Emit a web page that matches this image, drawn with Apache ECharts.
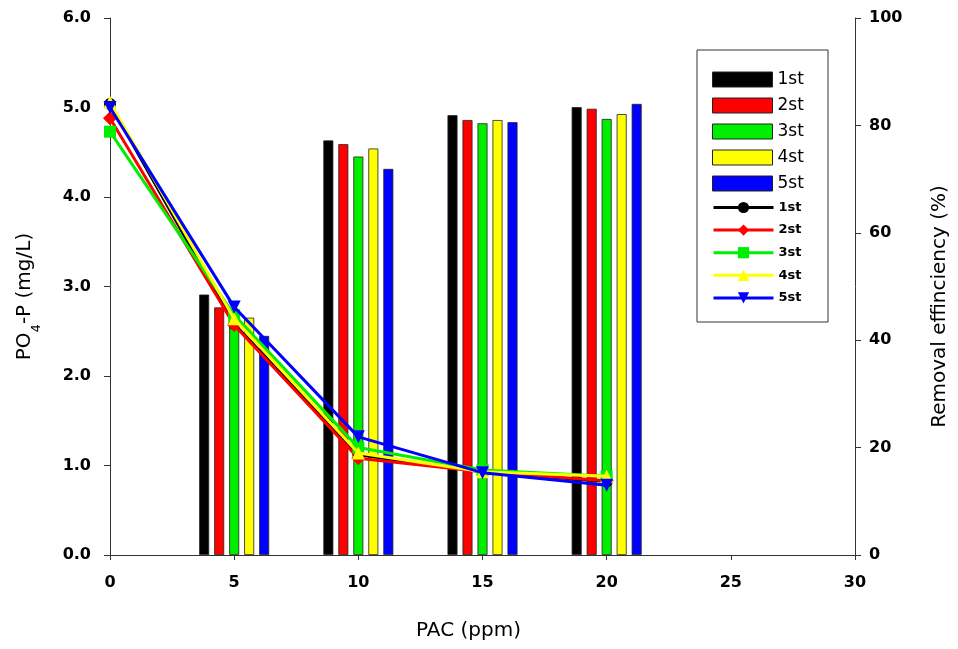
<!DOCTYPE html>
<html>
<head>
<meta charset="utf-8">
<title>PAC dose vs PO4-P and removal efficiency</title>
<script src="https://cdn.jsdelivr.net/npm/echarts@6/dist/echarts.min.js"></script>
<style>
  html, body { margin: 0; padding: 0; background: #fff; }
  #chart { width: 958px; height: 649px; }
</style>
</head>
<body>
<div id="chart"></div>
<script>
// PAC doses (ppm)
const doses = [0, 5, 10, 15, 20];
const barDoses = [5, 10, 15, 20];
const runNames = ['1st', '2st', '3st', '4st', '5st'];
const runColors = ['#000000', '#ff0000', '#00ee00', '#ffff00', '#0000ff'];

// Removal efficiency (%) per run, at 5/10/15/20 ppm
const removal1 = [48.5, 77.2, 81.9, 83.4];
const removal2 = [46.1, 76.5, 81.0, 83.1];
const removal3 = [45.2, 74.2, 80.4, 81.2];
const removal4 = [44.2, 75.7, 81.0, 82.1];
const removal5 = [40.8, 71.9, 80.6, 84.0];

// Residual PO4-P (mg/L) per run, at 0/5/10/15/20 ppm
const po4p1 = [5.04, 2.58, 1.12, 0.93, 0.82];
const po4p2 = [4.88, 2.57, 1.08, 0.93, 0.83];
const po4p3 = [4.73, 2.68, 1.20, 0.95, 0.88];
const po4p4 = [5.06, 2.64, 1.14, 0.93, 0.88];
const po4p5 = [5.00, 2.77, 1.32, 0.92, 0.78];

// Tick labels
const xTicks = [0, 5, 10, 15, 20, 25, 30];
const leftTicks = [0, 1, 2, 3, 4, 5, 6];
const rightTicks = [0, 20, 40, 60, 80, 100];

const removalSets = [removal1, removal2, removal3, removal4, removal5];
const po4pSets = [po4p1, po4p2, po4p3, po4p4, po4p5];
const symbols = ['circle', 'diamond', 'rect', 'triangle', 'triangle'];
const symbolRotations = [0, 0, 0, 0, 180];
const symbolSizes = [12, 14, 12, 13, 13];

const FONT = '"DejaVu Sans", Verdana, sans-serif';
const AXIS_COLOR = '#333';

const barSeries = removalSets.map((vals, i) => ({
  name: runNames[i],
  type: 'bar',
  xAxisIndex: 0,
  yAxisIndex: 1,
  data: barDoses.map((d, j) => [d, vals[j]]),
  barWidth: 10,
  barGap: '50%',
  itemStyle: { color: runColors[i], borderColor: '#222', borderWidth: 0.8 },
  z: 2
}));

// line series share display names with the bars; a trailing space keeps them distinct
const lineNames = runNames.map(n => n + ' ');
const lineSeries = po4pSets.map((vals, i) => ({
  name: lineNames[i],
  type: 'line',
  xAxisIndex: 0,
  yAxisIndex: 0,
  data: doses.map((d, j) => [d, vals[j]]),
  symbol: symbols[i],
  symbolSize: symbolSizes[i],
  symbolRotate: symbolRotations[i],
  showAllSymbol: true,
  lineStyle: { color: runColors[i], width: 3 },
  itemStyle: { color: runColors[i] },
  z: 3 + i
}));

const chart = echarts.init(document.getElementById('chart'), null, { renderer: 'canvas' });

chart.setOption({
  animation: false,
  backgroundColor: '#ffffff',
  textStyle: { fontFamily: FONT },
  grid: { left: 110, right: 103, top: 18, bottom: 94, containLabel: false },
  graphic: [{
    type: 'rect',
    shape: { x: 697, y: 50, width: 131, height: 272 },
    style: { fill: '#ffffff', stroke: '#333', lineWidth: 1 },
    z: 10
  }],
  legend: [{
    data: runNames,
    icon: 'rect',
    orient: 'vertical',
    left: 712,
    top: 71,
    itemWidth: 60,
    itemHeight: 15,
    itemGap: 9,
    itemTextGap: 15,
    padding: 0,
    selectedMode: false,
    itemStyle: { borderColor: '#222', borderWidth: 1 },
    textStyle: { fontFamily: FONT, fontSize: 17, color: '#000' },
    z: 20
  }, {
    data: lineNames,
    orient: 'vertical',
    left: 712,
    top: 201,
    itemWidth: 60,
    itemHeight: 14,
    itemGap: 9.6,
    itemTextGap: 15,
    padding: 0,
    selectedMode: false,
    lineStyle: { width: 3 },
    textStyle: { fontFamily: FONT, fontSize: 13, fontWeight: 'bold', color: '#000' },
    z: 20
  }],
  xAxis: {
    type: 'value',
    min: xTicks[0],
    max: xTicks[xTicks.length - 1],
    interval: 5,
    name: 'PAC (ppm)',
    nameLocation: 'middle',
    nameGap: 66,
    nameTextStyle: { fontFamily: FONT, fontSize: 20, color: '#000', padding: [0, 28, 0, 0] },
    axisLine: { lineStyle: { color: AXIS_COLOR, width: 1 } },
    axisTick: { show: true, length: 5, inside: false, lineStyle: { color: AXIS_COLOR } },
    axisLabel: {
      margin: 20, fontFamily: FONT, fontSize: 16, fontWeight: 'bold', color: '#000',
      formatter: v => xTicks.includes(v) ? String(v) : ''
    },
    splitLine: { show: false }
  },
  yAxis: [{
    type: 'value',
    position: 'left',
    min: leftTicks[0],
    max: leftTicks[leftTicks.length - 1],
    interval: 1,
    name: 'PO{sub|4}-P (mg/L)',
    nameLocation: 'middle',
    nameGap: 75,
    nameRotate: 90,
    nameTextStyle: {
      fontFamily: FONT, fontSize: 20, color: '#000', padding: [0, 20, 0, 0],
      rich: { sub: { fontFamily: FONT, fontSize: 13, color: '#000', verticalAlign: 'bottom', padding: [0, 0, -8, 0] } }
    },
    axisLine: { show: true, lineStyle: { color: AXIS_COLOR, width: 1 } },
    axisTick: { show: true, length: 6, inside: false, lineStyle: { color: AXIS_COLOR } },
    axisLabel: {
      margin: 19, fontFamily: FONT, fontSize: 16, fontWeight: 'bold', color: '#000',
      formatter: v => v.toFixed(1)
    },
    splitLine: { show: false }
  }, {
    type: 'value',
    position: 'right',
    min: rightTicks[0],
    max: rightTicks[rightTicks.length - 1],
    interval: 20,
    name: 'Removal effinciency (%)',
    nameLocation: 'middle',
    nameGap: 75,
    nameRotate: 90,
    nameTextStyle: { fontFamily: FONT, fontSize: 20, color: '#000', padding: [0, 40, 0, 0] },
    axisLine: { show: true, lineStyle: { color: AXIS_COLOR, width: 1 } },
    axisTick: { show: true, length: 6, inside: false, lineStyle: { color: AXIS_COLOR } },
    axisLabel: { margin: 14, fontFamily: FONT, fontSize: 16, fontWeight: 'bold', color: '#000' },
    splitLine: { show: false }
  }],
  series: [...barSeries, ...lineSeries]
});
</script>
</body>
</html>
